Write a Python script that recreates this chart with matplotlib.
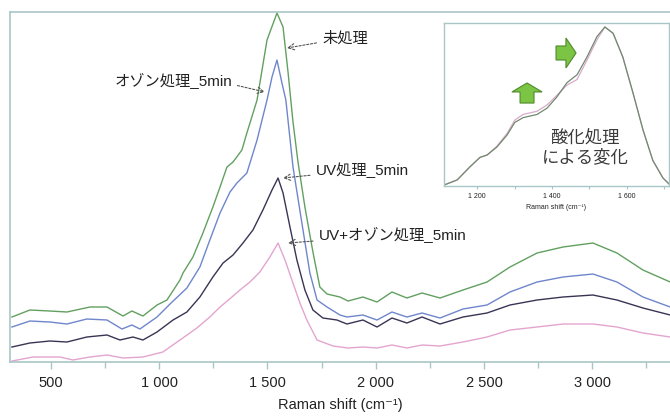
"""Raman spectra of treated samples with inset of the G-band region."""
import matplotlib
matplotlib.use("Agg")
import matplotlib.pyplot as plt
from matplotlib.patches import Polygon
from matplotlib.ticker import FuncFormatter, MultipleLocator

plt.rcParams["font.family"] = ["Liberation Sans", "Noto Sans CJK JP", "DejaVu Sans"]

# main spectra (wavenumber, arbitrary intensity)
WN_RAW = [320, 403, 495, 574, 680, 759, 833, 874, 925, 990, 1036, 1096, 1110, 1156,
          1202, 1248, 1281, 1313, 1341, 1382, 1405, 1452, 1498, 1544, 1572, 1595,
          1618, 1641, 1673, 1710, 1742, 1775, 1835, 1872, 1941, 2006, 2075, 2144,
          2214, 2297, 2403, 2514, 2620, 2745, 2865, 3003, 3114, 3234, 3360]
I_RAW = [45, 52, 51, 50, 55, 55, 46, 51, 46, 57, 62, 82, 89, 105,
         129, 155, 175, 195, 200, 212, 229, 262, 322, 349, 335, 290,
         240, 200, 155, 110, 75, 68, 65, 61, 65, 60, 70, 64,
         69, 64, 72, 80, 95, 109, 115, 119, 109, 92, 80]

WN_OZONE = [320, 403, 495, 574, 666, 759, 828, 874, 911, 990, 1050, 1128, 1188, 1234,
            1281, 1327, 1359, 1405, 1452, 1498, 1521, 1544, 1567, 1585, 1618, 1659,
            1696, 1729, 1775, 1835, 1867, 1941, 2006, 2075, 2144, 2214, 2297, 2403,
            2514, 2620, 2745, 2865, 3003, 3114, 3234, 3360]
I_OZONE = [35, 41, 40, 38, 43, 42, 33, 37, 33, 45, 58, 74, 95, 122,
           149, 170, 179, 189, 222, 262, 285, 302, 279, 262, 195, 139,
           89, 62, 55, 47, 45, 47, 42, 50, 45, 49, 44, 53,
           57, 70, 80, 85, 88, 80, 65, 55]

WN_UV = [320, 403, 495, 574, 666, 759, 819, 879, 925, 990, 1064, 1128, 1188, 1248,
         1295, 1341, 1387, 1433, 1479, 1521, 1549, 1572, 1604, 1636, 1673, 1710,
         1756, 1821, 1867, 1941, 2006, 2075, 2144, 2214, 2297, 2403, 2514, 2620,
         2745, 2865, 3003, 3114, 3234, 3360]
I_UV = [15, 19, 21, 20, 25, 27, 22, 25, 22, 30, 42, 50, 65, 85,
        99, 107, 119, 132, 152, 172, 184, 169, 135, 102, 72, 52,
        44, 42, 38, 42, 35, 44, 39, 45, 38, 45, 49, 57,
        62, 65, 67, 62, 54, 47]

WN_UV_OZONE = [320, 417, 542, 602, 680, 759, 833, 925, 1017, 1096, 1174, 1234, 1281,
               1336, 1373, 1419, 1465, 1511, 1549, 1581, 1613, 1650, 1682, 1729, 1803,
               1872, 1941, 2006, 2075, 2144, 2214, 2297, 2403, 2514, 2620, 2745, 2865,
               3003, 3114, 3234, 3360]
I_UV_OZONE = [1, 5, 5, 2, 5, 7, 4, 5, 10, 22, 34, 45, 55,
              65, 72, 80, 90, 105, 119, 102, 82, 59, 42, 22, 16,
              14, 15, 14, 17, 14, 17, 16, 20, 25, 32, 35, 38,
              38, 35, 29, 25]

# inset: normalised G band, before / after oxidation
WN_INSET = [1112, 1147, 1181, 1208, 1227, 1253, 1280, 1301, 1323, 1360, 1387, 1413,
            1440, 1467, 1493, 1520, 1541, 1563, 1589, 1616, 1643, 1669, 1696, 1712]
I_INSET_RAW = [0.006, 0.038, 0.12, 0.18, 0.195, 0.245, 0.32, 0.40, 0.43, 0.45, 0.49, 0.56,
               0.65, 0.70, 0.81, 0.94, 1.0, 0.96, 0.81, 0.585, 0.35, 0.16, 0.05, 0.013]
I_INSET_OX = [0.006, 0.038, 0.12, 0.18, 0.195, 0.25, 0.33, 0.415, 0.45, 0.47, 0.51, 0.57,
              0.635, 0.67, 0.79, 0.92, 1.0, 0.96, 0.81, 0.585, 0.35, 0.16, 0.05, 0.013]

SPINE = "#a9c6c6"
GREEN = "#62a060"
BLUE = "#6f86cc"
DARK = "#3a3454"
PINK = "#e3a5cf"
TEXT = "#222222"


def thousands(v, pos):
    return f"{v:,.0f}".replace(",", " ")


fig = plt.figure(figsize=(6.7, 4.16), dpi=100)
ax = fig.add_axes([0.0149, 0.1298, 0.9851, 0.8413])

ax.plot(WN_RAW, I_RAW, color=GREEN, lw=1.0)
ax.plot(WN_OZONE, I_OZONE, color=BLUE, lw=1.0)
ax.plot(WN_UV, I_UV, color=DARK, lw=1.0)
ax.plot(WN_UV_OZONE, I_UV_OZONE, color=PINK, lw=1.0)

ax.set_xlim(311, 3359)
ax.set_ylim(0, 350)
ax.set_yticks([])
ax.xaxis.set_major_locator(MultipleLocator(500))
ax.xaxis.set_minor_locator(MultipleLocator(250))
ax.xaxis.set_major_formatter(FuncFormatter(thousands))
ax.tick_params(axis="x", which="major", length=5, width=1, color=SPINE,
               labelsize=10.5, labelcolor=TEXT, pad=5)
ax.tick_params(axis="x", which="minor", length=4, width=1, color=SPINE)
ax.spines["right"].set_visible(False)
for side in ["left", "top", "bottom"]:
    ax.spines[side].set_color(SPINE)
    ax.spines[side].set_linewidth(1.2)
ax.set_xlabel("Raman shift (cm⁻¹)", fontsize=10.5, color=TEXT, labelpad=6)

arrow = dict(arrowstyle="->", color="#555555", lw=0.8, linestyle=(0, (2, 1.5)),
             shrinkA=2, shrinkB=0)
ax.annotate("未処理", xy=(1590, 314), xytext=(1752, 324), fontsize=11,
            ha="left", va="center", color=TEXT, arrowprops=arrow)
ax.annotate("オゾン処理_5min", xy=(1488, 270), xytext=(1336, 281), fontsize=11,
            ha="right", va="center", color=TEXT,
            arrowprops=dict(arrow, relpos=(1.0, 0.3)))
ax.annotate("UV処理_5min", xy=(1572, 184), xytext=(1722, 192), fontsize=11,
            ha="left", va="center", color=TEXT, arrowprops=arrow)
ax.annotate("UV+オゾン処理_5min", xy=(1595, 119), xytext=(1736, 127), fontsize=11,
            ha="left", va="center", color=TEXT, arrowprops=arrow)

# inset
ins = fig.add_axes([0.6627, 0.5529, 0.3358, 0.3918])
ins.plot(WN_INSET, I_INSET_OX, color="#d9aacb", lw=0.9)
ins.plot(WN_INSET, I_INSET_RAW, color="#6f8a6f", lw=0.9)
ins.set_xlim(1112, 1712)
ins.set_ylim(0, 1.025)
ins.set_yticks([])
ins.xaxis.set_major_locator(MultipleLocator(200))
ins.xaxis.set_minor_locator(MultipleLocator(100))
ins.xaxis.set_major_formatter(FuncFormatter(thousands))
ins.tick_params(axis="x", which="both", length=2, width=0.8, color=SPINE,
                labelsize=5, labelcolor=TEXT, pad=3)
for side in ins.spines:
    ins.spines[side].set_color(SPINE)
    ins.spines[side].set_linewidth(1.0)
ins.set_xlabel("Raman shift (cm⁻¹)", fontsize=5, color=TEXT, labelpad=3)

ins.text(0.627, 0.236, "酸化処理\nによる変化", transform=ins.transAxes, fontsize=12.5,
         ha="center", va="center", color="#3a3a3a", linespacing=1.15)

# green block arrows marking the change
right_arrow = [(0.498, 0.859), (0.542, 0.859), (0.542, 0.908), (0.587, 0.816),
               (0.542, 0.724), (0.542, 0.773), (0.498, 0.773)]
up_arrow = [(0.338, 0.509), (0.338, 0.577), (0.302, 0.577), (0.369, 0.632),
            (0.436, 0.577), (0.400, 0.577), (0.400, 0.509)]
for shape in (right_arrow, up_arrow):
    ins.add_patch(Polygon(shape, closed=True, transform=ins.transAxes,
                          facecolor="#7cc444", edgecolor="#4f8a2c", lw=0.8))

fig.savefig("out.png", dpi=100, facecolor="white")
